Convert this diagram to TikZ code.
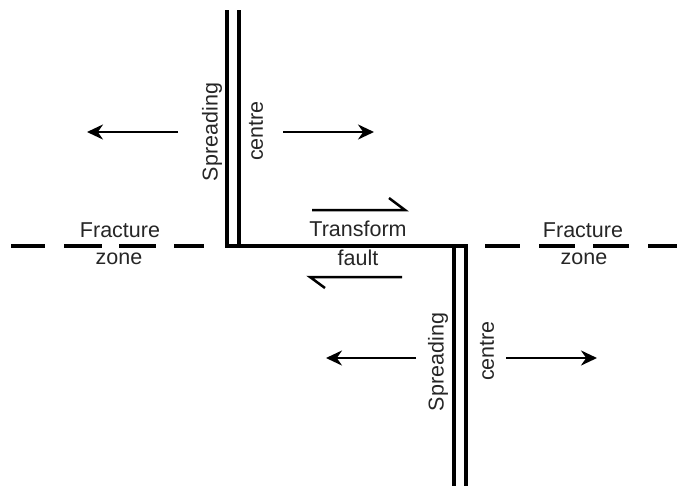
\documentclass[tikz,border=0pt]{standalone}
\usepackage{fontspec}
\setmainfont{Liberation Sans}
\usetikzlibrary{arrows.meta}
\begin{document}
\begin{tikzpicture}[x=1pt,y=-1pt,
  ridge/.style={line width=3.2pt,line cap=butt,line join=miter},
  fz/.style={line width=3.4pt},
  motion/.style={line width=2.6pt,-{Stealth[length=16pt,width=15pt]}},
  shear/.style={line width=2.5pt},
  lbl/.style={font=\fontsize{21.5}{23}\selectfont,inner sep=0pt,text=black!85}]
\useasboundingbox (0,0) rectangle (677,488);
% coordinates
\coordinate (uo) at (227,10);
\coordinate (ui) at (239,10);
\coordinate (tl) at (227,246);
\coordinate (tr) at (466,246);
\coordinate (lo) at (466,486);
\coordinate (lit) at (454,246);
\coordinate (lib) at (454,486);
\coordinate (uib) at (239,246);
% spreading centres and transform fault
\draw[ridge] (uo) -- (tl) -- (tr) -- (lo);
\draw[ridge] (ui) -- (uib);
\draw[ridge] (lit) -- (lib);
% fracture zones
\foreach \a/\b in {11/45,64/102,119/156,174/204,485/520,539/575,593/629,648/677}
  \draw[fz] (\a,246) -- (\b,246);
% labels
\node[lbl] (fz1a) at (120,230) {Fracture};
\node[lbl] (fz1b) at (119,259) {zone};
\node[lbl] (fz2a) at (583,230) {Fracture};
\node[lbl] (fz2b) at (584,259) {zone};
\node[lbl] (tf1) at (358,229) {Transform};
\node[lbl] (tf2) at (358,258) {fault};
\node[lbl,rotate=90] (sc1a) at (212,132) {Spreading};
\node[lbl,rotate=90] (sc1b) at (256,131) {centre};
\node[lbl,rotate=90] (sc2a) at (438,362) {Spreading};
\node[lbl,rotate=90] (sc2b) at (487,351) {centre};
% spreading motion arrows
\coordinate (a1s) at (178,132); \coordinate (a1e) at (87,132);
\coordinate (a2s) at (283,132); \coordinate (a2e) at (374,132);
\coordinate (a3s) at (416,358); \coordinate (a3e) at (326,358);
\coordinate (a4s) at (506,358); \coordinate (a4e) at (597,358);
\draw[motion] (a1s) -- (a1e);
\draw[motion] (a2s) -- (a2e);
\draw[motion] (a3s) -- (a3e);
\draw[motion] (a4s) -- (a4e);
% shear half-arrows
\coordinate (s1a) at (312,210); \coordinate (s1b) at (405,210); \coordinate (s1c) at (389,198);
\coordinate (s2a) at (402,277); \coordinate (s2b) at (310,277); \coordinate (s2c) at (325,288);
\draw[shear,line join=miter] (s1a) -- (s1b) -- (s1c);
\draw[shear,line join=miter] (s2a) -- (s2b) -- (s2c);
\end{tikzpicture}
\end{document}
